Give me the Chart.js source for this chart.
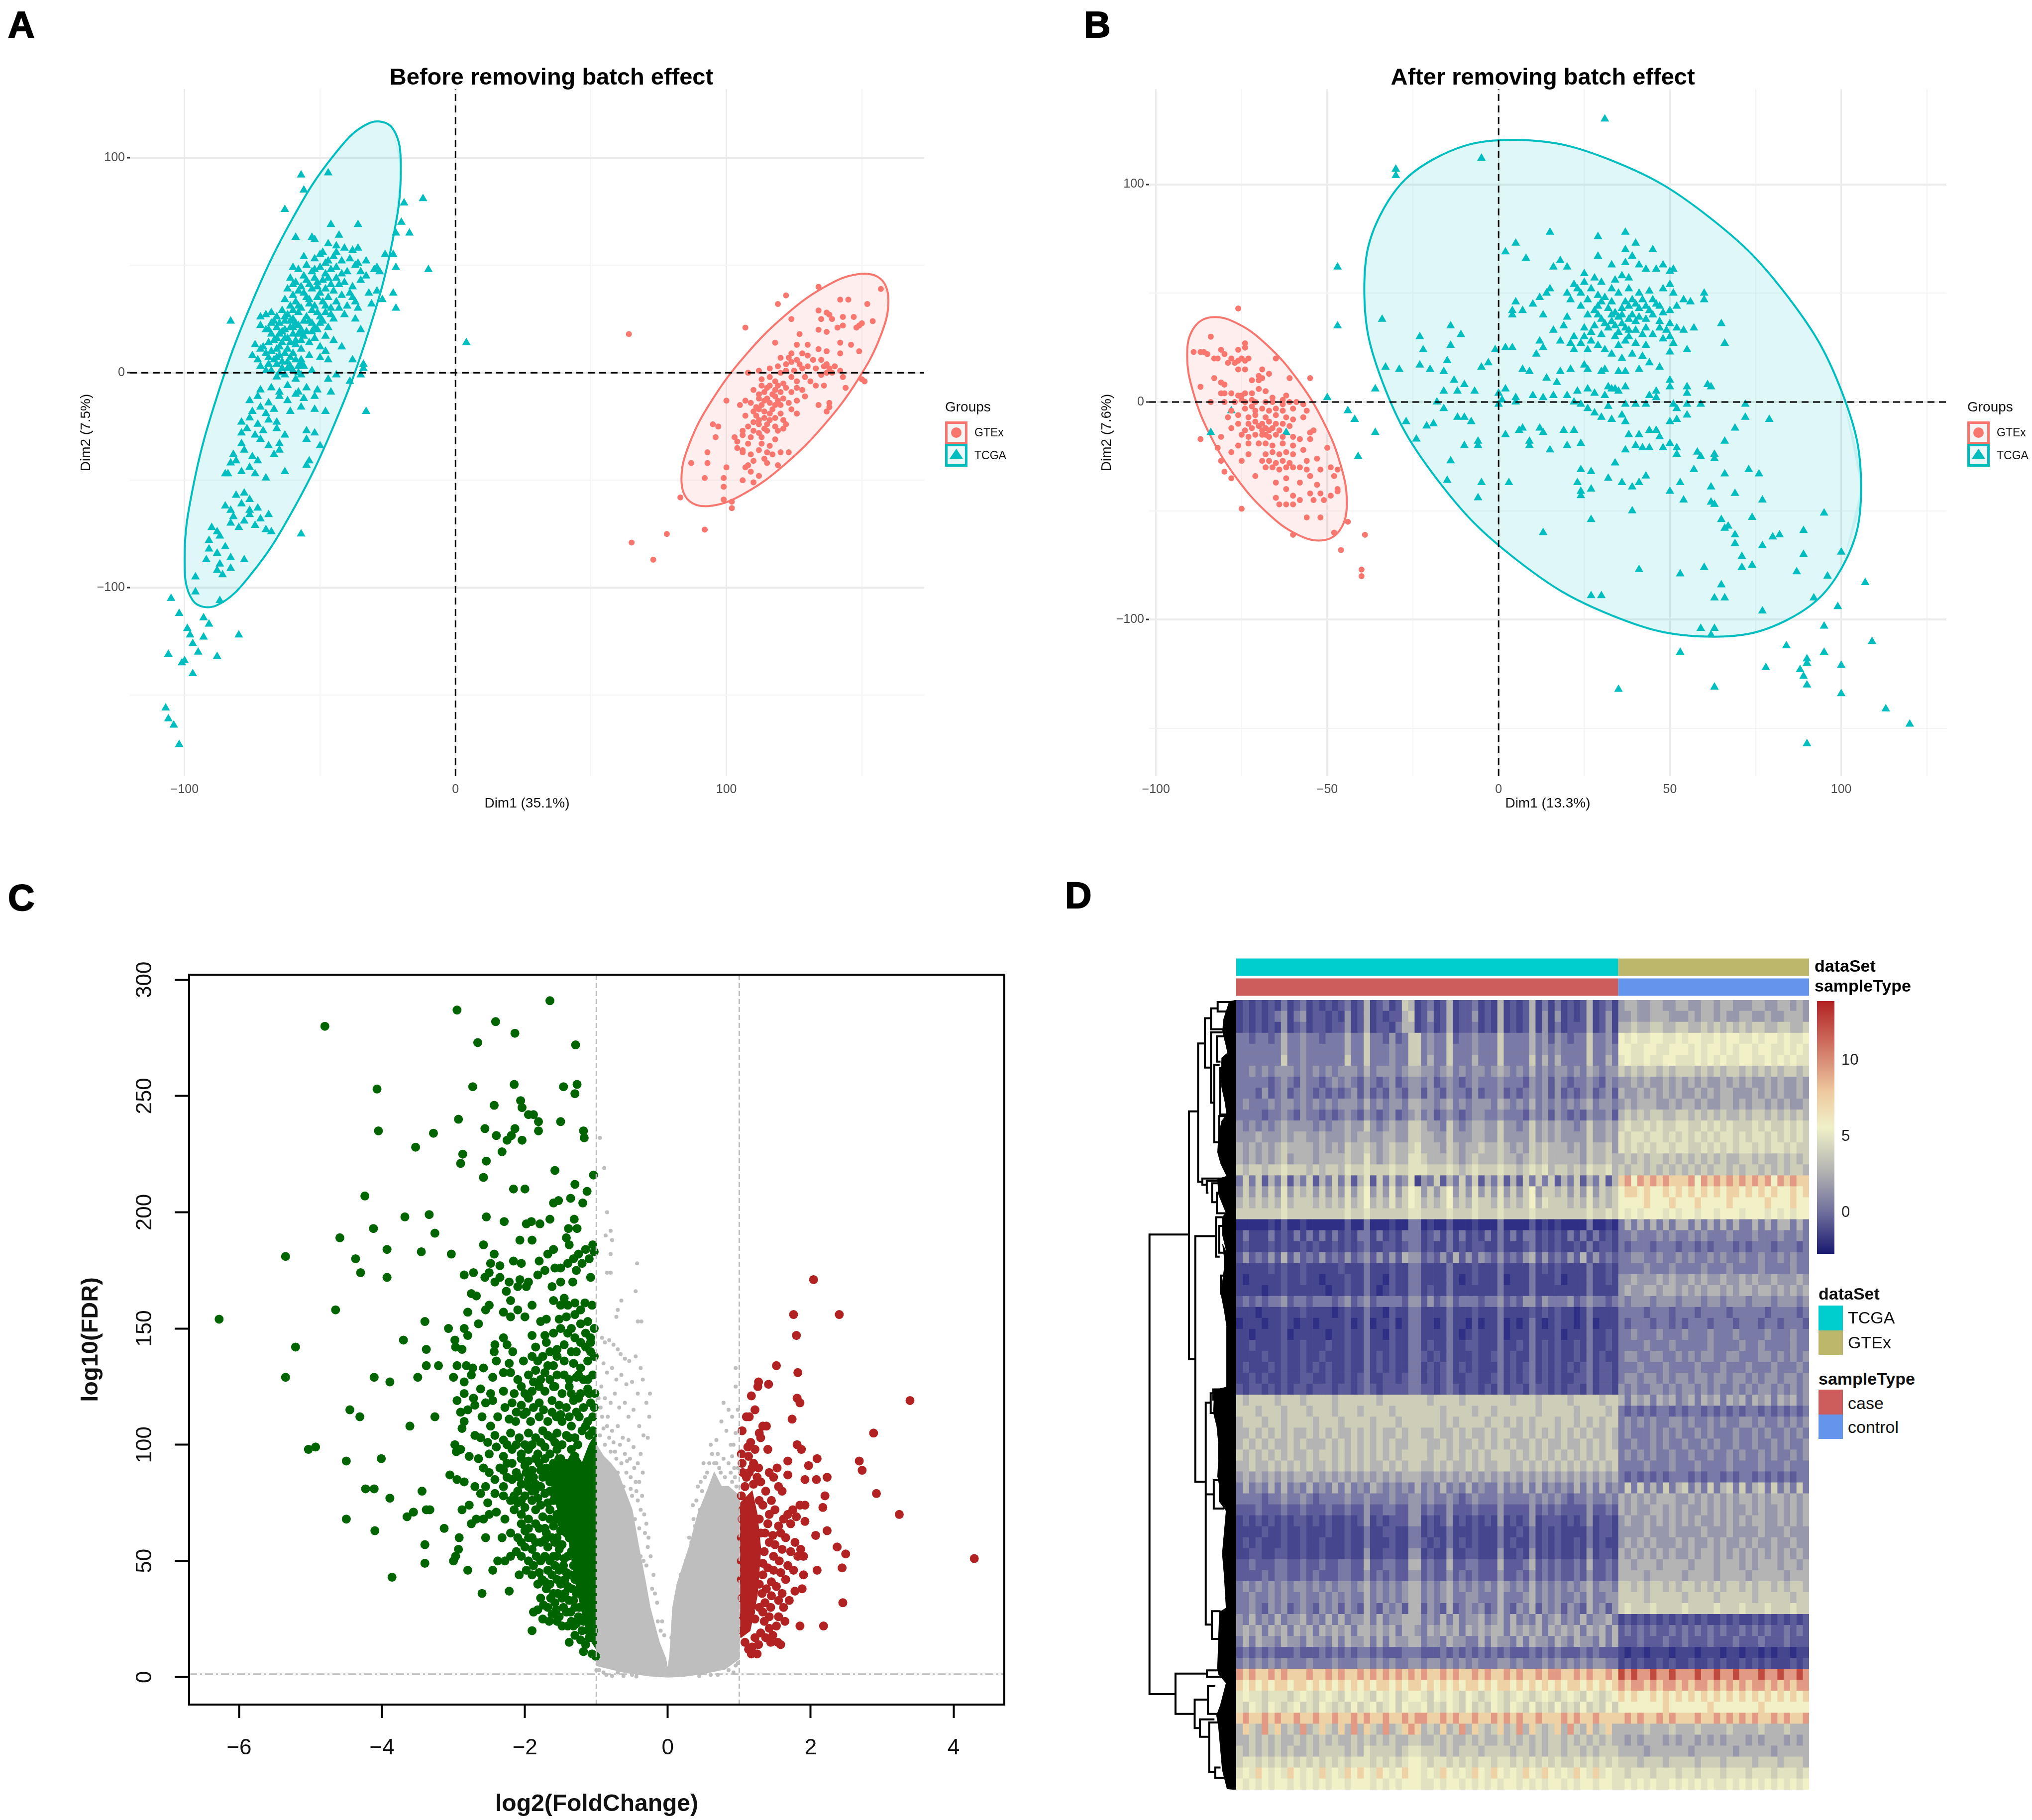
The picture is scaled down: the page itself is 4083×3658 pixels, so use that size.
<!DOCTYPE html>
<html>
<head>
<meta charset="utf-8">
<title>Batch effect, volcano and heatmap panels</title>
<script src="https://cdn.jsdelivr.net/npm/chart.js@4/dist/chart.umd.min.js"></script>
<style>
html, body { margin: 0; background: #fff; }
#page { position: relative; width: 4083px; height: 3658px; overflow: hidden; font-family: "Liberation Sans", Arial, sans-serif; color: #111; }
#page canvas { position: absolute; }
.txt { position: absolute; white-space: nowrap; line-height: 1; transform: translateY(-50%); }
.tag { font-weight: bold; font-size: 74px; color: #000; -webkit-text-stroke: 2px #000; }
.box { position: absolute; box-sizing: border-box; }
</style>
</head>
<body>
<div id="page"></div>
<script>
// panel A
const aXTicks = [-100, 0, 100];
const aYTicks = [100, 0, -100];
const aGtexEllipse = [[159.8,33.6],[156.9,43.7],[148.6,45.9],[136.2,39.9],[121.6,26.6],[107,8.1],[94.6,-12.9],[86.3,-33.1],[83.4,-49.6],[86.3,-59.7],[94.6,-61.9],[107,-55.9],[121.6,-42.6],[136.2,-24.1],[148.6,-3.1],[156.9,17.1],[159.8,33.6]];
const aTcgaEllipse = [[-20.2,94.6],[-23.2,113.7],[-31.9,116.1],[-44.8,101.4],[-60.1,71.9],[-75.4,32],[-88.3,-12.1],[-97,-53.9],[-100,-86.8],[-97,-105.9],[-88.3,-108.3],[-75.4,-93.6],[-60.1,-64.1],[-44.8,-24.2],[-31.9,19.9],[-23.2,61.7],[-20.2,94.6]];
const aTcga = [[-57,92],[-47,93],[-56,85],[-63,76],[-46,69],[-36,69],[-59,63],[-53,63],[-52,62],[-43,64],[-12,81],[-19,79],[-20,70],[-17,65],[-22,65],[-26,55],[-23,55],[-22,49],[-10,48],[-23,37],[-22,30],[-83,24],[4,14],[-34,4],[-35,-1],[-33,-18],[-57,-75],[-96,-95],[-96,-102],[-87,-106],[-105,-105],[-102,-112],[-93,-114],[-91,-117],[-99,-119],[-98,-122],[-93,-123],[-80,-122],[-97,-126],[-95,-130],[-88,-132],[-106,-131],[-100,-134],[-101,-135],[-97,-140],[-107,-156],[-106,-161],[-104,-164],[-102,-173],
[-47,60],[-44,59],[-41,58],[-38,57],[-36,58],[-49,56],[-56,54],[-52,53],[-50,55],[-47,52],[-45,54],[-42,52],[-39,53],[-33,52],[-30,48],[-28,47],[-36,51],[-60,49],[-58,48],[-55,50],[-53,47],[-50,49],[-48,46],[-46,48],[-44,49],[-42,46],[-37,50],[-35,47],[-33,45],[-29,49],[-61,44],[-59,42],[-56,45],[-54,41],[-52,44],[-49,43],[-46,41],[-44,44],[-41,42],[-38,40],[-35,43],[-62,39],[-60,36],[-58,38],[-55,35],[-53,39],[-50,37],[-47,35],[-45,38],[-42,36],[-38,35],[-32,37],[-29,38],[-27,34],[-63,34],[-61,31],[-59,33],[-57,30],[-54,34],[-52,31],[-49,33],[-46,30],[-44,33],[-40,31],[-37,33],[-31,32],[-70,27],[-72,26],[-68,28],[-66,26],[-64,29],[-62,27],[-60,25],[-58,28],[-55,26],[-53,29],[-50,26],[-48,28],[-45,25],[-41,27],[-37,25],[-72,22],[-70,20],[-68,23],[-66,21],[-63,24],[-61,21],[-59,23],[-57,20],[-54,24],[-52,21],[-50,23],[-47,21],[-35,20],[-68,18],[-66,16],[-64,19],[-62,16],[-60,18],[-57,15],[-55,19],[-52,16],[-48,17],[-45,15],[-74,13],[-72,11],[-69,14],[-66,11],[-64,14],[-62,11],[-59,13],[-57,11],[-54,14],[-50,12],[-48,10],[-42,12],[-75,8],[-73,6],[-70,9],[-67,6],[-65,8],[-62,5],[-60,9],[-57,6],[-54,8],[-50,7],[-47,6],[-38,6],[-72,3],[-70,1],[-66,4],[-64,2],[-61,3],[-58,0],[-56,3],[-53,1],[-34,2],[-66,-2],[-63,-1],[-59,-3],[-57,-1],[-47,-3],[-44,-1],[-39,-4],[-72,-8],[-68,-7],[-65,-9],[-62,-6],[-58,-9],[-55,-7],[-51,-8],[-46,-9],[-76,-13],[-73,-11],[-69,-14],[-65,-11],[-62,-13],[-59,-10],[-56,-12],[-52,-11],[-75,-18],[-72,-16],[-70,-19],[-67,-17],[-61,-18],[-57,-16],[-52,-17],[-48,-18],[-79,-23],[-76,-21],[-73,-24],[-69,-22],[-66,-23],[-79,-28],[-77,-26],[-74,-29],[-71,-27],[-66,-26],[-63,-29],[-55,-27],[-52,-28],[-79,-33],[-72,-31],[-69,-34],[-65,-33],[-55,-31],[-50,-34],[-82,-38],[-78,-36],[-75,-39],[-67,-38],[-65,-36],[-83,-42],[-81,-41],[-76,-44],[-73,-41],[-55,-43],[-54,-41],[-85,-47],[-84,-47],[-79,-46],[-74,-47],[-70,-49],[-63,-46],[-81,-57],[-78,-56],[-76,-59],[-85,-62],[-83,-64],[-79,-61],[-76,-64],[-73,-63],[-82,-67],[-78,-69],[-76,-66],[-72,-68],[-69,-66],[-90,-72],[-88,-74],[-83,-70],[-80,-72],[-74,-71],[-70,-73],[-68,-74],[-91,-78],[-87,-76],[-91,-82],[-88,-84],[-85,-81],[-92,-87],[-87,-89],[-83,-86],[-78,-87],[-88,-92],[-86,-94],[-83,-91],
[-60,41],[-57,40],[-55,43],[-51,40],[-48,39],[-56,37],[-54,32],[-51,35],[-48,31],[-58,31],[-60,29],[-63,26],[-65,23],[-61,24],[-58,22],[-56,24],[-53,23],[-51,28],[-49,24],[-46,27],[-67,24],[-69,20],[-65,18],[-63,20],[-60,21],[-58,18],[-56,17],[-53,19],[-51,20],[-63,16],[-61,14],[-59,15],[-57,18],[-67,15],[-65,12],[-63,9],[-61,7],[-68,10],[-59,6],[-66,7],[-69,7],[-64,5],[-62,2],[-60,1],[-71,12],[-69,4],[-58,3],[-68,1],[-65,0],[-57,4],[-52,48],[-47,44],[-43,41],[-40,47],[-48,51],[-44,56],[-51,42],[-43,30],[-39,37],[-36,30]];
const aGtex = [[64,18],[65,-79],[73,-87],[78,-75],[92,-73],[102,-63],[102,-60],[99,-59],[83,-58],[157,39],[134,40],[122,36],[119,32],[142,34],[145,34],[152,32],[134,29],[137,28],[138,27],[143,26],[139,25],[147,26],[135,25],[124,25],[107,21],[150,23],[143,22],[149,22],[148,21],[141,21],[154,24],[134,20],[137,19],[127,18],[118,14],[142,14],[146,13],[130,13],[126,13],[134,11],[137,10],[124,9],[128,9],[130,8],[120,7],[123,7],[126,6],[132,6],[135,6],[142,9],[149,10],[137,4],[136,3],[138,2],[140,3],[127,4],[124,5],[122,4],[119,3],[130,3],[133,2],[116,2],[122,1],[125,1],[128,2],[112,1],[108,0],[120,0],[137,0],[139,0],[142,1],[143,-2],[135,-1],[129,-2],[124,-2],[116,-2],[113,-3],[118,-4],[121,-5],[126,-4],[131,-4],[150,-3],[151,-4],[126,-7],[122,-7],[118,-8],[115,-7],[110,-8],[112,-10],[114,-9],[117,-10],[120,-9],[124,-9],[128,-8],[133,-6],[136,-6],[144,-7],[100,-13],[107,-13],[109,-14],[112,-12],[115,-12],[118,-11],[121,-12],[126,-13],[129,-11],[138,-14],[134,-15],[105,-15],[111,-16],[113,-15],[116,-14],[118,-15],[120,-15],[123,-14],[110,-18],[114,-18],[117,-17],[120,-19],[124,-17],[137,-18],[138,-16],[107,-20],[111,-20],[114,-21],[118,-21],[121,-22],[126,-19],[112,-24],[115,-24],[108,-25],[110,-23],[118,-25],[122,-24],[95,-24],[97,-25],[106,-27],[112,-28],[115,-27],[119,-27],[121,-26],[106,-29],[109,-30],[113,-30],[118,-31],[103,-30],[96,-30],[104,-32],[108,-33],[113,-33],[116,-34],[104,-35],[106,-36],[112,-36],[120,-37],[115,-37],[93,-37],[106,-37],[109,-38],[117,-38],[123,-37],[110,-41],[114,-40],[100,-44],[107,-44],[115,-42],[109,-46],[112,-48],[87,-42],[93,-42],[108,-43],[119,-43],[99,-49],[92,-49],[106,-50],[110,-51],[99,-53],[113,-6],[116,-6],[119,-6],[114,-13],[119,-13],[112,-17],[116,-19],[112,-22],[114,-26],[110,-27],[116,-22]];
// panel B
const bXTicks = [-100, -50, 0, 50, 100];
const bYTicks = [100, 0, -100];
const bGtexEllipse = [[-44.3,-46.2],[-46.1,-28.9],[-51.1,-9.1],[-58.7,10.3],[-67.6,26.2],[-76.5,36.3],[-84.1,38.9],[-89.1,33.7],[-90.9,21.6],[-89.1,4.3],[-84.1,-15.5],[-76.5,-34.9],[-67.6,-50.8],[-58.7,-60.9],[-51.1,-63.5],[-46.1,-58.3],[-44.3,-46.2]];
const bTcgaEllipse = [[105.8,-39.3],[100.3,4.2],[84.6,48],[61.1,85.4],[33.3,110.8],[5.5,120.4],[-18,112.4],[-33.7,88.4],[-39.2,51.9],[-33.7,8.4],[-18,-35.4],[5.5,-72.8],[33.3,-98.2],[61.1,-107.8],[84.6,-99.8],[100.3,-75.8],[105.8,-39.3]];
const bTcga = [[31,130],[-5,112],[-30,107],[-30,104],[-47,62],[-47,35],[-34,38],[15,78],[29,76],[37,78],[40,73],[37,70],[45,70],[5,73],[2,69],[8,66],[29,67],[39,67],[18,65],[16,62],[20,62],[25,59],[33,63],[37,64],[41,63],[43,61],[46,61],[48,63],[50,60],[51,61],[36,58],[38,57],[34,56],[28,57],[30,55],[25,55],[22,54],[23,52],[20,50],[21,47],[24,50],[27,52],[29,49],[26,47],[33,52],[31,48],[35,50],[38,52],[41,50],[44,51],[48,52],[50,54],[51,50],[54,47],[56,46],[60,50],[60,47],[45,47],[47,44],[50,42],[52,44],[42,47],[39,47],[37,46],[36,43],[38,44],[34,41],[32,43],[35,39],[39,40],[41,43],[44,42],[48,41],[29,44],[15,52],[14,50],[12,48],[10,45],[5,46],[4,42],[7,42],[4,40],[13,40],[20,39],[29,40],[33,37],[36,36],[40,37],[43,38],[47,37],[50,36],[52,34],[54,33],[57,34],[65,36],[66,27],[47,34],[49,33],[43,34],[38,33],[32,34],[25,34],[19,35],[16,33],[12,28],[25,30],[22,30],[21,27],[24,27],[27,28],[30,31],[34,30],[29,26],[31,24],[38,30],[40,27],[43,26],[50,30],[51,27],[55,24],[50,23],[22,24],[18,28],[13,25],[11,22],[4,25],[2,25],[-1,24],[-23,30],[-22,24],[-14,35],[-14,26],[-11,31],[-23,17],[-20,15],[-15,19],[-16,14],[-13,10],[-10,8],[-5,16],[-3,18],[-33,16],[-29,15],[-36,6],[-16,5],[-12,5],[-7,5],[0,4],[2,6],[7,15],[9,14],[14,11],[17,9],[18,14],[21,15],[26,15],[25,17],[30,14],[31,15],[35,14],[37,14],[41,15],[44,18],[47,16],[50,10],[32,7],[33,6],[34,6],[35,5],[26,6],[28,4],[31,3],[37,7],[46,5],[50,7],[55,7],[61,8],[62,7],[5,2],[10,3],[13,2],[16,3],[20,3],[23,5],[44,3],[46,2],[55,4],[-50,2],[-18,0],[-16,-3],[-10,-7],[-8,-9],[-12,-7],[0,-1],[1,1],[5,0],[22,0],[24,-1],[26,-3],[28,-5],[32,-2],[37,-1],[40,-1],[43,-1],[51,-1],[52,-3],[55,-1],[59,-1],[50,-9],[52,-8],[55,-6],[72,-1],[72,-7],[79,-8],[36,-6],[33,-8],[30,-7],[37,-9],[-27,-9],[-21,-11],[-19,-10],[-44,-4],[-42,-8],[-36,-14],[-84,-14],[-62,-14],[-78,-4],[-24,-17],[-10,-20],[-6,-18],[-6,-20],[2,-15],[6,-13],[7,-12],[12,-12],[13,-14],[9,-18],[9,-20],[15,-22],[19,-13],[22,-13],[24,-19],[20,-20],[38,-15],[37,-22],[41,-15],[44,-13],[46,-13],[47,-16],[40,-20],[42,-21],[44,-21],[48,-21],[50,-19],[52,-21],[52,-24],[58,-23],[59,-25],[63,-24],[63,-26],[66,-18],[69,-12],[-41,-25],[-14,-27],[-5,-37],[3,-37],[-15,-36],[24,-31],[27,-32],[34,-28],[32,-35],[27,-40],[23,-37],[24,-41],[24,-43],[36,-37],[39,-39],[41,-37],[43,-34],[50,-41],[53,-37],[57,-31],[62,-39],[66,-33],[54,-45],[62,-46],[63,-47],[69,-42],[73,-31],[76,-33],[77,-45],[-6,-44],[27,-54],[39,-50],[13,-60],[65,-54],[67,-57],[66,-58],[69,-61],[74,-53],[89,-59],[95,-51],[77,-66],[69,-65],[80,-62],[82,-61],[71,-71],[74,-75],[71,-76],[87,-78],[89,-70],[100,-69],[96,-80],[41,-77],[53,-79],[60,-76],[65,-84],[63,-90],[66,-90],[27,-89],[30,-89],[77,-96],[92,-90],[99,-94],[107,-83],[95,-103],[59,-104],[63,-104],[62,-107],[53,-115],[84,-112],[90,-118],[95,-115],[109,-110],[78,-122],[88,-123],[90,-120],[100,-121],[89,-126],[90,-130],[63,-131],[35,-132],[100,-134],[113,-141],[120,-148],[90,-157],
[30,38],[33,40],[36,40],[38,38],[41,39],[34,35],[31,36],[37,34],[40,33],[35,32],[28,35],[27,32],[42,31],[45,31],[48,29],[45,40],[43,44],[40,45],[33,46],[30,46],[28,42],[26,40],[24,44],[46,45],[37,28],[35,26],[26,24],[33,22],[36,20],[39,22],[42,21]];
const bGtex = [[-76,43],[-84,30],[-89,23],[-87,23],[-86,23],[-85,22],[-81,24],[-76,24],[-74,27],[-74,25],[-80,22],[-83,20],[-82,20],[-78,20],[-76,19],[-75,20],[-74,19],[-73,20],[-65,20],[-79,18],[-77,18],[-76,15],[-74,15],[-69,15],[-70,12],[-67,13],[-83,11],[-87,7],[-81,9],[-80,8],[-72,10],[-70,10],[-69,11],[-61,11],[-55,11],[-81,4],[-80,4],[-78,4],[-76,3],[-75,3],[-74,4],[-72,4],[-70,6],[-68,5],[-66,2],[-63,1],[-62,3],[-84,0],[-80,0],[-77,0],[-75,1],[-74,0],[-72,1],[-71,0],[-68,0],[-66,0],[-63,-1],[-61,0],[-59,0],[-57,-1],[-78,-4],[-74,-3],[-72,-2],[-71,-4],[-69,-3],[-67,-4],[-65,-3],[-63,-4],[-60,-3],[-56,-4],[-79,-7],[-76,-6],[-73,-7],[-71,-6],[-68,-7],[-65,-6],[-62,-7],[-60,-8],[-57,-7],[-76,-10],[-73,-10],[-71,-9],[-69,-10],[-67,-9],[-65,-10],[-63,-10],[-61,-11],[-78,-12],[-74,-13],[-72,-12],[-70,-11],[-69,-13],[-68,-12],[-67,-13],[-66,-12],[-64,-13],[-55,-14],[-54,-13],[-87,-17],[-81,-16],[-75,-15],[-73,-16],[-71,-15],[-69,-15],[-68,-15],[-67,-16],[-65,-15],[-63,-16],[-60,-16],[-58,-17],[-55,-17],[-76,-20],[-73,-19],[-70,-19],[-68,-19],[-66,-20],[-63,-19],[-60,-20],[-50,-21],[-82,-21],[-78,-23],[-73,-24],[-68,-24],[-66,-23],[-64,-24],[-62,-23],[-60,-24],[-57,-22],[-53,-26],[-69,-27],[-67,-27],[-65,-28],[-63,-27],[-61,-28],[-56,-27],[-81,-27],[-75,-27],[-68,-30],[-66,-30],[-64,-31],[-62,-30],[-60,-30],[-58,-30],[-56,-31],[-52,-31],[-49,-30],[-47,-31],[-80,-32],[-78,-35],[-71,-34],[-62,-35],[-55,-34],[-48,-34],[-65,-37],[-58,-37],[-53,-38],[-47,-40],[-62,-40],[-60,-43],[-55,-42],[-52,-42],[-49,-43],[-47,-41],[-65,-44],[-58,-45],[-54,-45],[-51,-45],[-64,-47],[-62,-47],[-60,-47],[-75,-49],[-56,-53],[-52,-53],[-60,-61],[-48,-60],[-44,-55],[-39,-61],[-46,-68],[-40,-77],[-40,-80]];
// panel C
const cXTicks = [-6, -4, -2, 0, 2, 4];
const cYTicks = [0, 50, 100, 150, 200, 250, 300];
const fcCuts = [-1, 1];
const fdrCut = 1.3;
const cNsCore = [[-1,5],[-1,100],[-0.9,95],[-0.8,92],[-0.7,88],[-0.6,80],[-0.5,72],[-0.42,58],[-0.32,42],[-0.25,30],[-0.12,15],[-0.03,8],[0,3],[0.03,10],[0.07,30],[0.13,40],[0.3,56],[0.42,70],[0.55,80],[0.65,88],[0.75,82],[0.85,82],[1,78],[1,8],[0.8,3.5],[0.5,1.5],[0.2,0.3],[0,0],[-0.25,0.5],[-0.6,2],[-0.8,3.5],[-1,5]];
const cDownCore = [[-1,12],[-1.12,18],[-1.2,28],[-1.3,42],[-1.38,58],[-1.5,68],[-1.62,80],[-1.65,90],[-1.55,96],[-1.42,92],[-1.32,98],[-1.2,92],[-1.1,100],[-1,105],[-1,12]];
const cUpCore = [[1.02,17],[1.15,20],[1.25,35],[1.3,55],[1.25,70],[1.18,80],[1.02,75],[1.02,17]];
const cNs = [[-0.95,232],[-0.89,219],[-0.85,200],[-0.87,190],[-0.8,192],[-0.78,188],[-0.8,182],[-0.43,178],[-0.85,174],[-0.8,174],[-0.45,166],[-0.65,162],[-0.7,158],[-0.72,155],[-0.42,153],[-0.37,153],[-0.92,146],[-0.88,144],[-0.82,145],[-0.76,143],[-0.7,141],[-0.66,139],[-0.6,137],[-0.54,136],[-0.45,138],[-0.38,133],[-0.35,128],[-0.9,135],[-0.85,131],[-0.78,133],[-0.72,128],[-0.65,130],[-0.58,126],[-0.5,127],[-0.42,122],[-0.3,118],[-0.25,122],[-0.26,112],[-0.93,125],[-0.88,120],[-0.8,118],[-0.74,122],[-0.68,116],[-0.6,118],[-0.55,112],[-0.48,115],[-0.4,108],[-0.34,104],[-0.38,96],[-0.28,103],[-0.92,112],[-0.85,108],[-0.78,106],[-0.7,108],[-0.63,103],[-0.55,102],[-0.48,99],[-0.42,92],[-0.35,88],[-0.45,84],[-0.95,104],[-0.88,100],[-0.8,97],[-0.72,94],[-0.65,92],[-0.58,88],[-0.52,86],[-0.5,78],[-0.42,76],[-0.38,72],[-0.32,62],[-0.28,56],[-0.2,44],[-0.15,32],[-0.34,50],[-0.4,64],[-0.62,82],[-0.7,88],[-0.8,90],[-0.9,94],[0.95,133],[0.95,125],[0.78,118],[0.85,115],[0.9,112],[0.75,110],[0.82,106],[0.6,100],[0.95,105],[0.88,100],[0.9,95],[0.7,96],[0.78,94],[0.65,92],[0.85,92],[0.55,88],[0.93,90],[0.48,80],[0.38,65],[0.45,72],[0.33,58],[0.28,52],[0.22,46],[0.16,38],[0.72,90],[0.96,82],[0.9,84],[0.11,28],[0.05,17],[-0.05,18],[-0.08,24],[-1,3],[-0.9,2],[-0.7,2],[-0.5,1],[0.6,1],[0.85,3],[0.95,5],
[-0.97,120],[-0.94,116],[-0.9,107],[-0.84,112],[-0.82,103],[-0.76,101],[-0.74,97],[-0.67,100],[-0.6,96],[-0.57,93],[-0.53,94],[-0.47,90],[-0.44,80],[-0.4,84],[-0.36,78],[-0.33,70],[-0.3,66],[-0.27,60],[-0.24,52],[-0.22,38],[-0.18,36],[-0.14,24],[-0.1,20],[-0.98,97],[-0.52,81],[-0.46,68],[-0.38,52],[-0.3,48],[-0.96,3],[-0.86,1],[-0.78,0.5],[-0.62,0.5],[-0.44,0.3],[-0.9,6],[0.12,34],[0.18,44],[0.25,50],[0.3,60],[0.36,68],[0.4,76],[0.46,84],[0.52,86],[0.58,92],[0.62,96],[0.68,92],[0.74,88],[0.8,86],[0.88,88],[0.94,86],[0.98,90],[0.35,74],[0.42,82],[0.5,92],[0.68,102],[0.92,100],[0.98,115],[0.44,0.5],[0.7,1],[0.92,2],[0.98,6]];
const cUp = [[2.04,171],[1.76,156],[2.4,156],[1.8,147],[1.52,134],[1.82,131],[3.39,119],[1.27,127],[1.26,125],[1.41,126],[1.17,121],[1.81,120],[1.85,118],[1.22,115],[1.1,112],[1.14,112],[1.74,111],[2.88,105],[1.04,106],[1.33,108],[1.38,108],[1.28,105],[1.3,103],[1.81,100],[1.87,98],[2.68,93],[2.72,89],[2.09,94],[1.97,91],[1.68,93],[2.23,86],[2.08,85],[1.92,85],[1.68,87],[1.53,90],[2.92,79],[2.2,78],[2.17,73],[1.92,74],[3.24,70],[4.29,51],[2.23,63],[2.37,56],[2.49,53],[2.44,47],[2.09,46],[2.07,61],[2.45,32],[2.18,22],[1.85,22],[1.92,67],[1.16,101],[1.12,99],[1.22,98],[1.4,98],[1.03,96],[1.04,92],[1.2,92],[1.27,90],[1.14,88],[1.05,88],[1.1,86],[1.42,88],[1.48,86],[1.3,84],[1.55,82],[1.2,83],[1.37,80],[1.45,76],[1.6,80],[1.33,74],[1.5,72],[1.68,70],[1.75,72],[1.85,74],[1.8,69],[1.72,66],[1.62,68],[1.55,65],[1.42,70],[1.4,66],[1.36,62],[1.47,61],[1.58,62],[1.65,60],[1.78,58],[1.86,55],[1.9,52],[1.82,52],[1.72,54],[1.6,55],[1.5,57],[1.42,58],[1.35,54],[1.48,52],[1.56,50],[1.68,48],[1.76,46],[1.9,44],[1.88,38],[1.78,37],[1.65,42],[1.58,45],[1.48,46],[1.4,47],[1.33,49],[1.33,44],[1.45,41],[1.52,39],[1.6,36],[1.7,33],[1.62,30],[1.55,33],[1.45,35],[1.38,38],[1.32,36],[1.28,40],[1.36,32],[1.44,30],[1.55,26],[1.64,24],[1.52,22],[1.42,26],[1.33,28],[1.28,30],[1.35,24],[1.42,21],[1.47,18],[1.54,15],[1.58,14],[1.44,15],[1.37,17],[1.3,19],[1.27,14],[1.22,17],[1.18,13],[1.13,12],[1.25,10],[1.17,10],[1.08,15],[1.05,20],[1.06,26],[1.1,30],[1.16,28],[1.22,25],[1.04,34],[1.08,38],[1.03,42],[1.07,46],[1.03,50],[1.06,55],[1.03,60],[1.07,64],[1.04,68],[1.05,72],[1.03,78],[1.08,82],[1.28,68],[1.3,62],[1.28,76],[1.25,86],[1.18,90],[1.13,95]];
const cDown = [[-6.28,154],[-5.35,181],[-5.21,142],[-5.35,129],[-4.8,280],[-4.59,189],[-4.65,158],[-4.37,180],[-4.3,174],[-4.24,207],[-4.12,193],[-4.07,253],[-4.05,235],[-3.93,184],[-3.93,172],[-4.11,129],[-3.89,127],[-4.45,115],[-4.31,112],[-5.03,98],[-4.93,99],[-4.5,93],[-4.01,94],[-4.23,81],[-4.11,81],[-3.89,77],[-4.5,68],[-4.1,63],[-3.86,43],[-3.68,198],[-3.45,183],[-3.34,199],[-3.26,191],[-3.53,228],[-3.28,234],[-3.4,153],[-3.7,145],[-3.38,141],[-3.5,129],[-3.38,134],[-3.21,134],[-3.61,108],[-3.26,112],[-3.44,80],[-3.65,69],[-3.56,71],[-3.38,72],[-3.33,72],[-3.13,64],[-3.4,57],[-3.4,49],[-2.95,287],[-2.66,273],[-2.41,282],[-2.14,277],[-1.65,291],[-1.29,272],[-2.73,254],[-2.15,255],[-1.46,254],[-1.27,255],[-1.3,251],[-2.43,246],[-2.06,248],[-2.04,245],[-1.95,242],[-1.88,242],[-1.81,239],[-1.5,239],[-2.93,240],[-2.56,236],[-2.4,233],[-2.14,236],[-1.81,235],[-1.18,235],[-1.17,232],[-2.25,231],[-2.19,233],[-2.04,231],[-2.87,225],[-2.54,222],[-2.9,221],[-2.32,226],[-2.58,215],[-1.58,218],[-1.3,212],[-1.04,216],[-1.13,209],[-2.16,210],[-2,210],[-1.36,206],[-1.53,205],[-1.6,204],[-1.19,204],[-2.54,198],[-2.29,196],[-1.65,197],[-1.31,197],[-1.98,195],[-1.91,196],[-1.79,195],[-1.39,193],[-1.27,193],[-2.07,188],[-1.9,188],[-2.58,186],[-3.03,182],
[-1.05,186],[-1.15,184],[-1.25,182],[-1.38,186],[-1.42,189],[-1.6,184],[-1.68,182],[-1.8,179],[-2.05,178],[-2.16,179],[-2.35,177],[-2.48,178],[-2.43,182],[-1.03,183],[-1.1,180],[-1.2,178],[-1.32,180],[-1.4,178],[-1.5,176],[-1.58,176],[-1.72,175],[-1.82,173],[-1.95,170],[-2.07,171],[-2.22,170],[-2.35,172],[-2.5,174],[-2.56,172],[-2.72,174],[-2.85,173],[-1.08,172],[-1.28,175],[-1.33,170],[-1.5,170],[-1.62,168],[-1.98,168],[-2.1,168],[-2.26,166],[-2.42,170],[-2.75,165],[-2.68,164],[-1.45,163],[-1.4,160],[-1.3,161],[-1.16,161],[-1.06,160],[-1.5,160],[-1.6,162],[-1.9,160],[-2.2,162],[-2.5,160],[-2.55,158],[-2.8,157],[-2.1,158],[-2.3,157],[-2.2,155],[-1.42,155],[-1.52,154],[-1.7,154],[-1.78,153],[-2.0,155],[-2.65,152],[-2.85,150],[-3.07,150],[-1.22,152],[-1.5,150],[-1.6,148],[-1.72,147],[-1.9,147],[-2.3,146],[-2.42,143],[-2.8,147],[-2.98,145],[-2.97,142],[-2.88,141],[-1.08,144],[-1.15,142],[-1.22,144],[-1.28,140],[-1.45,143],[-1.55,141],[-1.7,144],[-2.25,143],[-2.43,140],[-2.17,140],[-1.08,140],[-1.12,136],[-1.22,133],[-1.32,135],[-1.45,136],[-1.55,138],[-1.6,134],[-1.75,138],[-1.82,136],[-1.9,138],[-2.02,136],[-2.22,135],[-2.4,136],[-2.2,131],[-2.58,133],[-2.73,133],[-2.95,134],[-2.82,134],[-1.05,130],[-1.18,128],[-1.28,129],[-1.38,128],[-1.55,130],[-1.65,128],[-1.72,131],[-1.85,132],[-1.95,130],[-2.1,128],[-2.3,131],[-2.45,129],[-2.75,130],[-3,129],[-2.85,127],[-1.02,122],[-1.12,124],[-1.22,122],[-1.38,125],[-1.48,122],[-1.6,125],[-1.72,123],[-1.8,125],[-1.9,123],[-2.05,125],[-2.15,122],[-2.3,123],[-2.48,122],[-2.62,124],[-2.72,120],[-2.85,122],[-2.95,119],[-1.08,118],[-1.18,116],[-1.32,119],[-1.42,116],[-1.52,117],[-1.62,119],[-1.8,118],[-1.95,120],[-2.05,117],[-2.18,118],[-2.28,116],[-2.45,119],[-2.55,118],[-2.7,117],[-2.8,115],[-2.9,114],[-1.05,112],[-1.12,110],[-1.24,112],[-1.35,108],[-1.48,110],[-1.56,112],[-1.68,110],[-1.8,112],[-1.92,110],[-2.02,113],[-2.13,110],[-2.22,111],[-2.38,112],[-2.48,108],[-2.6,112],[-2.85,110],[-2.88,107],[-1.1,104],[-1.2,106],[-1.3,103],[-1.42,104],[-1.55,105],[-1.62,103],[-1.75,106],[-1.85,103],[-1.95,105],[-2.08,103],[-2.2,105],[-2.3,102],[-2.42,104],[-2.52,101],[-2.62,103],[-2.7,104],[-2.98,100],[-2.96,97],[-1.05,98],[-1.35,98],[-1.55,98],[-1.65,96],[-1.72,99],[-1.82,96],[-1.95,98],[-2.05,96],[-2.18,98],[-2.3,95],[-2.4,99],[-2.5,96],[-2.65,94],[-2.78,95],[-2.9,98],[-1.6,92],[-1.7,90],[-1.8,92],[-1.9,89],[-2,91],[-2.12,88],[-2.25,92],[-2.35,90],[-2.5,88],[-2.58,90],[-2.95,85],[-3.05,87],[-1.55,86],[-1.65,84],[-1.75,86],[-1.85,83],[-1.95,85],[-2.05,83],[-2.18,85],[-2.3,82],[-2.42,85],[-2.55,82],[-2.7,82],[-2.85,84],[-1.55,80],[-1.6,76],[-1.72,79],[-1.82,77],[-1.9,80],[-2,78],[-2.1,80],[-2.2,76],[-2.3,78],[-2.42,79],[-2.52,75],[-2.62,79],[-2.78,74],[-2.88,72],[-1.45,72],[-1.55,70],[-1.65,72],[-1.75,69],[-1.85,72],[-1.95,68],[-2.05,70],[-2.15,72],[-2.28,68],[-2.4,71],[-2.5,70],[-2.58,68],[-2.68,68],[-2.75,66],[-1.4,66],[-1.5,63],[-1.6,65],[-1.7,62],[-1.8,64],[-1.9,60],[-2,63],[-2.1,60],[-2.2,62],[-2.32,60],[-2.55,60],[-2.92,60],[-2.93,55],[-1.38,60],[-1.48,57],[-1.58,58],[-1.68,56],[-1.78,58],[-1.9,55],[-2,56],[-2.12,54],[-2.2,52],[-2.28,50],[-2.38,50],[-2.97,52],[-3,50],[-1.35,54],[-1.45,51],[-1.55,52],[-1.65,50],[-1.78,50],[-1.88,48],[-1.98,46],[-2.08,44],[-2.45,46],[-2.8,46],[-1.32,48],[-1.42,45],[-1.52,46],[-1.62,44],[-1.72,41],[-1.82,40],[-2.6,36],[-2.22,37],[-1.3,42],[-1.4,39],[-1.5,40],[-1.6,36],[-1.7,38],[-1.78,34],[-1.28,36],[-1.38,33],[-1.48,34],[-1.58,32],[-1.68,30],[-1.82,29],[-1.88,28],[-1.3,30],[-1.42,28],[-1.52,26],[-1.62,27],[-1.75,25],[-1.25,26],[-1.35,24],[-1.48,22],[-1.55,24],[-1.9,20],[-1.2,20],[-1.3,18],[-1.38,15],[-1.15,14],[-1.1,17],[-1.18,11],[-1.06,10],[-1.01,9],[-1.04,20],[-1.25,130],[-1.35,122],[-1.12,92],[-1.3,95],[-1.42,92],[-1.5,94],[-1.08,146],[-1.12,153],[-1.35,150],[-1.3,156],[-1.22,158],
[-1.03,150],[-1.15,148],[-1.3,146],[-1.4,148],[-1.03,138],[-1.35,140],[-1.65,140],[-1.85,142],[-1.12,128],[-1.25,120],[-1.45,130],[-1.58,125],[-1.68,134],[-1.78,128],[-1.88,127],[-2,122],[-1.03,116],[-1.1,122],[-1.28,114],[-1.38,112],[-1.5,113],[-1.62,114],[-1.74,115],[-1.88,116],[-1.98,114],[-2.12,114],[-1.05,106],[-1.15,108],[-1.26,100],[-1.38,103],[-1.48,100],[-1.58,101],[-1.68,104],[-1.78,101],[-1.9,100],[-2,100],[-2.12,100],[-2.25,100],[-1.72,94],[-1.85,94],[-1.95,93],[-2.05,94],[-2.18,92],[-2.3,89],[-1.68,87],[-1.78,89],[-1.88,86],[-1.98,88],[-2.08,86],[-2.25,86],[-1.65,80],[-1.78,82],[-1.86,80],[-1.95,82],[-2.05,76],[-2.15,78],[-1.5,75],[-1.58,78],[-1.68,75],[-1.78,74],[-1.9,76],[-2,73],[-2.1,75],[-1.48,66],[-1.55,68],[-1.65,68],[-1.72,64],[-1.85,66],[-1.95,64],[-2.05,66],[-1.42,62],[-1.55,60],[-1.62,60],[-1.72,59],[-1.85,58],[-1.95,60],[-2.05,58],[-1.4,52],[-1.52,55],[-1.6,52],[-1.72,52],[-1.84,52],[-1.95,50],[-2.05,52],[-1.36,44],[-1.46,48],[-1.58,48],[-1.68,46],[-1.8,45],[-1.9,44],[-1.34,38],[-1.44,42],[-1.55,42],[-1.65,40],[-1.76,42],[-1.32,33],[-1.44,36],[-1.54,36],[-1.64,34],[-1.74,31],[-1.24,30],[-1.36,28],[-1.46,30],[-1.56,29],[-1.66,24],[-1.18,24],[-1.28,23],[-1.4,22],[-1.12,20],[-1.22,16],[-1.32,22]];
// panel D
const heatRowNames = ['0','1','2','3','4','5','6','7','8','9','10','11','12','13','14','15','16','17','18','19','20','21','22','23','24','25','26','27','28','29','30','31','32','33','34','35','36','37','38','39','40','41','42','43','44','45','46','47','48','49','50','51','52','53','54','55','56','57','58','59','60','61','62','63','64','65','66','67','68','69','70','71'];
const heatLevels = { 0:'#2f2f85', 1:'#46468f', 2:'#5c5c9a', 3:'#7a7aa6', 4:'#9898ad', 5:'#b4b4b4', 6:'#cdcdb8', 7:'#e2e2c0', 8:'#f2f0c6', 9:'#eed2a6', a:'#e29a84', b:'#c04a40' };
const heatRows = [
'1212121312 3121212312 5123126512 3125122312 1512125131 3121251231 4554455445 5445545544 4554455454',
'1212123413 4122121412 5121225612 4125122412 1512125141 4121251241 4454455544 4545545445 5445445554',
'1212121412 3122122412 5122135512 3125122312 1512125141 3122251241 5565566556 6556565656 5665566556',
'3323323533 4332333533 6332423663 4336233433 3633335342 4323363342 8787788778 7887787887 7878878778',
'3333333533 4333333533 6333433663 4336333433 3633335343 4333363343 8877887788 8787887878 8788778787',
'3333333633 4333333633 6333433663 5336333533 3633336353 5333363353 7877877887 7787878778 8778787877',
'3343434443 4343434443 5344434554 4345343443 4543435343 4434354344 6565665656 6656565665 6565656656',
'3333323432 4332343432 4323423443 4234323433 3433324342 4323343243 4454544545 4545445454 5445454454',
'3332423423 4323232342 4232432442 4324332423 3423234342 4232342342 5445454545 4454545544 4545454454',
'3433343443 4343434443 5343443554 4345343444 3543435343 4343453443 4545554454 5545445545 4554545445',
'3333233432 4332323432 4323423453 4234323443 3433324342 4323243342 5656566556 6565656556 5665656565',
'4343434544 4434344544 6434544665 4436434554 4644346454 5443464454 6766767667 7667676766 6767667676',
'4445444545 5445444545 5445544665 5446444554 4644446454 5444464454 7677677676 7676767767 6776767676',
'5454545655 5545454655 6545655675 5546545565 5654546565 5545465564 7676767767 7667676767 7676776766',
'5454545645 5545555655 7545655776 5556545655 5655456565 5555465565 5656566565 6565656556 6565565656',
'6566566766 6565665766 7666766777 6667656766 6766567675 6656576675 6566565656 5656566565 6656565665',
'3636253625 3625363625 7263634714 3625363625 3625263636 2536253625 9a8a9a9a99 9a8a9a9a9a 9a9a8a9a99',
'4646464746 5646464746 8464746874 6468464746 4746468466 5646474656 8998988989 8989898998 9898988989',
'5656565756 6656565756 8565756875 6568565766 5756568576 6656575656 8888988898 8898888988 8889888988',
'6666666766 6666666766 7666666776 6667666766 6766667666 6666676676 8787888787 8878878887 8887878788',
'0000010200 1000000200 3000100330 1002000100 0300002010 1000030010 3535353535 5353535353 3535355353',
'1311131213 1313131213 3131213331 2313131213 1313133121 2131313121 3343334343 3434333433 3433343343',
'1211121211 2121121212 3112212331 2113121221 1311123121 2112131221 3233323332 3323233323 2333233323',
'2423242524 2324232423 4242425442 3242524243 2423245242 3242524232 3344334334 3433434334 3343343433',
'1111121211 2111112111 3111211331 1113111211 1311113121 2111131121 3333433343 3334333433 3343333433',
'1011111211 2110111211 3110211331 1113101211 1301113111 2011131121 4454445454 4545445445 4544544454',
'1111011211 1111011211 3101211331 2113111111 1311113111 1111131111 4544554554 5454554545 5455454545',
'2323233423 3233323423 4233332442 4234233323 3423244243 3342343323 4344434443 4443443444 3444344434',
'1110111211 2111101211 3110211331 1113111211 1311112121 2110131111 3333233323 3323333233 3332333323',
'0111011210 1101111201 3011201331 1013110201 1301013101 2110130111 3233323323 2333233323 3323323332',
'1101111201 1111011211 3110211331 1113101211 1301113111 2011131121 3343334333 4333433343 3334333433',
'1121111211 2111211211 3111211331 2113112211 1311213121 2112131121 3333433343 3333433334 3343333433',
'1111211211 2112111211 3121211332 1213111211 2312113121 2112131211 3443344334 3434433443 3344343434',
'1211121211 2121211211 3121211331 2123121211 1312123121 2121231221 3334333433 3343334333 4333433343',
'1121211211 2211211212 3112212331 2123112211 2312123121 2112231221 3443443434 4344344344 3434434434',
'2122121212 2122212212 3212222332 2123212212 1312213221 2122131221 4343344343 4434343343 4344343434',
'6566665666 5666656666 6656666666 5666656666 6665666566 6656666566 5354535453 4535453545 3545354534',
'6665666566 6566656665 6666566666 6656666566 5666666566 6665666656 3232323323 2332323232 3323232323',
'5666566566 6656665666 6566656666 6656566665 6656565666 5665656566 3434343344 3433434334 4343343434',
'5565656565 5656565565 6565565665 5655656556 5665565656 5656565565 3433343434 3343433343 3434334343',
'5656565565 6555656565 6565655666 5565655656 5656556565 5655656565 3343343433 4334343343 3433434334',
'6565656565 5656656565 6565656666 5665656565 6665656565 6565656566 3434343343 3433433434 3343433434',
'5565565656 5655656565 6556565665 5656556565 5665565656 5656565656 3333433343 3343333433 3343334333',
'4545454545 5454545454 5454545554 4545454545 4545454545 4545454545 3232323233 3232332323 3232323233',
'3534353534 3534353534 3543434353 4353435343 3534353534 3435353534 3636353635 6353635636 3563635363',
'3333233433 4323333433 4333433443 4334323433 3433334343 4323343343 5454545554 4545454545 5454554545',
'2223222322 3222322322 4223322442 3224222322 2422224232 3222242232 5454455454 5445454544 5454454545',
'1212121212 2121211212 4121222441 2124121212 1412124122 2121241221 4544545454 5454454545 4554454545',
'1111211211 2111211211 3112211331 2113111211 1311213121 2111131221 4444544454 4445444544 4454445444',
'1212111211 2112111211 3111211332 1213121211 1312113121 2112131211 4545454445 4544545445 4544544544',
'1122112211 2112111211 4112211441 2114112211 1411214121 2112141221 5454545454 4545545454 5454545454',
'2232223322 3223223322 5223322552 3225223322 2522235232 3223252232 5545554555 5455545554 5455545545',
'2222323322 3232223322 4232322442 3224232322 2422324232 3223242232 5555455555 4555545555 4555554555',
'3434343434 4343434434 5343434553 4345343434 3543435343 4343453443 6656566565 6656565665 6566565665',
'3343343433 4334343433 5343434553 4345334433 3533345343 4334353344 6666566666 5666656666 6566666566',
'3343243423 4324342432 5324342552 4325234342 3532435243 4243253424 6766676666 7666676667 6667666766',
'4353435344 5343535344 5353445553 4353534453 4535343534 5343534453 1212121212 1212112121 1212121212',
'4545354535 4535454535 5454535543 5454535454 5535454535 4545354535 2323232232 3232323223 2323223232',
'3535443544 3544353544 5353544553 4435443353 5443535443 5435443535 2223222322 3222322232 2232223222',
'2323232223 2223232323 3232223332 2232323232 3232223232 3222323222 1011011101 1101110110 1101011011',
'3434343433 3433343334 4343433443 4434343433 3443433343 4343434433 1212112121 1211212112 1212111212',
'a9a99a9a99 9a99a9a99a 9a9a9a9a9a 99a9a99a9a 99a9a99a9a a99a9a99a9 babaabaaba aabaabaaba aabaabaaba',
'9898989989 9898989898 9899898998 9898989989 8998989898 9899898989 a9aa9a9aa9 a9aa9a9a9a 9aa9a9a9aa',
'7877677767 8767876878 7687867887 6878768767 8767876787 6787687678 9898898989 8989898989 8989898989',
'7687687678 6768767686 7867868778 6768768676 8768768676 8676867686 8888888988 8888988888 8898888888',
'9a99a9a99a 99a99a99a9 a99a99a9aa 99a9a99a99 a9a9a99a99 9a9a99a999 9a9a99a9a9 99a99a9a9a 9a99a9a99a',
'5965a69565 a5696595a5 965a569a95 65956a5965 6956a59656 95a6595695 5555655565 5565555655 5565556555',
'5565656556 5656565565 6565655665 5656556565 5656565656 6565656565 5454555454 5545454555 4545554545',
'6565656565 5656666565 7666656776 6656566656 6665665656 6566565666 5555455555 5455555545 5555455555',
'6776767676 7676767677 7676767887 6776767677 6776767676 7667676767 6665666566 6656665666 6566656665',
'7879878798 7879787989 8798789887 8798787987 9878798798 7879879787 7677767776 7767776777 6777677767',
'8787878878 7878788788 8787878887 7878878787 8788787878 8787887887 7878787787 8787877878 7878787878'
];
const annotRows = ['dataSet', 'sampleType'];
const annotTcgaCase = [60, 60];
const annotGtexControl = [30, 30];
const colorbarTicks = [0, 5, 10];
const colorbarRange = [-2.68, 13.9];
const colorbarStops = [[-2.68,'#191970'],[0,'#6e6e9c'],[2.7,'#b2b2b2'],[5.6,'#f0f0c8'],[8,'#eec89e'],[10,'#d98d78'],[13.9,'#b22222']];
// dendrogram lines as [height, row%]
const dendroLines = [
[[54.3,29.7],[99.6,29.7],[99.6,87.9],[69.7,87.9]],
[[43.8,14.1],[54.3,14.1],[54.3,45.5],[47,45.5]],
[[36,5.5],[43.8,5.5],[43.8,23],[38.9,23]],
[[29,2.3],[36,2.3],[36,8.55],[29,8.55]],
[[21.3,1.05],[29,1.05],[29,3.7],[13,3.7]],
[[0,0.25],[21.3,0.25],[21.3,1.45],[10,1.45]],
[[15.7,4.1],[29,4.1],[29,13],[25.2,13]],
[[12,4.6],[22.3,4.6],[22.3,7.8],[18,7.8]],
[[19,8.2],[25.2,8.2],[25.2,18],[21,18]],
[[11,8.6],[18.5,8.6],[18.5,14.5],[10,14.5]],
[[10,14.7],[19.5,14.7],[19.5,19],[15,19]],
[[10,22.6],[38.9,22.6],[38.9,23.4],[33.8,23.4]],
[[20,22.9],[33.8,22.9],[33.8,24.4],[31.9,24.4]],
[[20,23.2],[27.7,23.2],[27.7,25.6],[22.3,25.6]],
[[16,24.4],[22.3,24.4],[22.3,27],[10,27]],
[[23.2,29.9],[47,29.9],[47,61],[35,61]],
[[12,27.5],[23.2,27.5],[23.2,32.5],[19,32.5]],
[[10,28.6],[19.5,28.6],[19.5,32],[12,32]],
[[12,34.9],[17.6,34.9],[17.6,37.2],[12,37.2]],
[[29.3,51],[35,51],[35,79.1],[28,79.1]],
[[35,62.6],[25.8,62.6]],
[[15,60.8],[25.8,60.8],[25.8,64.4],[14,64.4]],
[[24.4,49.8],[29.3,49.8],[29.3,52.3],[22,52.3]],
[[10,49.3],[26.5,49.3],[26.5,50.6],[22,50.6]],
[[18,77.4],[28,77.4],[28,80.9],[20,80.9]],
[[33.7,85.3],[69.7,85.3],[69.7,90.4],[47.7,90.4]],
[[0,84.9],[33.7,84.9],[33.7,85.7],[0,85.7]],
[[32.5,88.6],[47.7,88.6],[47.7,92.2],[41.7,92.2]],
[[24,86.9],[32.5,86.9],[32.5,90.4],[22,90.4]],
[[25,91.1],[41.7,91.1],[41.7,93.3],[31,93.3]],
[[21,91.5],[31,91.5],[31,97.8],[24,97.8]],
[[18,97.2],[24,97.2],[24,98.5],[14,98.5]]
];
const dendroLeaves = [[0,0],[8,0.2],[14.7,2.5],[15.7,4],[11.9,5.7],[9.9,6.7],[16.6,7.3],[17.6,9.9],[16.6,11.1],[12.8,13],[10.9,14.5],[16.6,15.3],[20.4,17.2],[21.4,19.3],[17.6,20.8],[10.9,22.3],[21.4,22.7],[20.4,24.6],[11.9,26.9],[15.7,27.5],[15.7,29.8],[10.9,32],[15.7,30.9],[13.8,32.6],[13.8,34],[17.6,37.2],[13.8,39.3],[10.9,41.4],[10.9,43.5],[10.9,47.7],[10.9,49],[25.2,49.4],[26.1,52.3],[22.3,54],[20.4,56.1],[20.4,58.2],[21.4,60.3],[19.5,61.4],[19.5,63.5],[11.6,64.7],[16,70.1],[13.8,72.9],[11.6,77],[19.3,77.5],[20.4,81],[21.5,84.6],[20.4,85.4],[11.6,86.5],[18.2,89.3],[22.6,90.6],[20.4,92],[16,97.5],[10.5,99.9],[0,100],[0,0]];

const page = document.getElementById('page');
const teal = '#00BDC0', salmon = '#F8766D';
const tealFill = 'rgba(0,191,196,0.12)', salmonFill = 'rgba(248,118,109,0.12)';
const minus = v => String(v).replace('-', '\u2212');

function mount(left, top, w, h, config) {
  const c = document.createElement('canvas');
  c.width = w; c.height = h;
  c.style.left = left + 'px'; c.style.top = top + 'px';
  c.style.width = w + 'px'; c.style.height = h + 'px';
  page.appendChild(c);
  config.options.responsive = false;
  config.options.animation = false;
  config.options.devicePixelRatio = 1;
  config.options.events = [];
  return new Chart(c.getContext('2d'), config);
}
function text(str, x, y, size, bold, cls) {
  const d = document.createElement('div');
  d.className = 'txt' + (cls ? ' ' + cls : '');
  d.textContent = str;
  d.style.left = x + 'px'; d.style.top = y + 'px';
  if (size) d.style.fontSize = size + 'px';
  if (bold) d.style.fontWeight = 'bold';
  page.appendChild(d);
}
function swatch(x, y, w, h, bg, border) {
  const d = document.createElement('div');
  d.className = 'box';
  d.style.cssText = `left:${x}px;top:${y}px;width:${w}px;height:${h}px;background:${bg};` + (border ? `border:5px solid ${border};` : '');
  page.appendChild(d);
  return d;
}

function pointSet(data, color, style, radius) {
  return { data, showLine: false, pointStyle: style, pointRadius: radius, pointBackgroundColor: color, pointBorderWidth: 0 };
}
// the outline runs one point past both ends so the spline has no corner where it closes;
// those two extra segments are not stroked
function outline(data, color, fillColor) {
  const loop = [data[data.length - 2], ...data, data[1]];
  return {
    data: loop, showLine: true, tension: 0.4, fill: 'shape', borderColor: color, borderWidth: 4, backgroundColor: fillColor, pointRadius: 0,
    segment: { borderColor: s => (s.p0DataIndex === 0 || s.p1DataIndex === loop.length - 1) ? 'rgba(0,0,0,0)' : undefined }
  };
}
function rule(data, color, dash, width) {
  return { data, showLine: true, borderColor: color, borderWidth: width, borderDash: dash, pointRadius: 0, fill: false };
}

function pcaChart(o) {
  const axis = (labels, step, min, max, extra) => ({
    type: 'linear', min, max,
    border: { display: false },
    grid: {
      color: c => labels.includes(c.tick.value) ? '#ebebeb' : '#f4f4f4',
      lineWidth: c => labels.includes(c.tick.value) ? extra.major : 2,
      tickLength: extra.tick, tickWidth: 3,
      tickColor: c => extra.tick && labels.includes(c.tick.value) ? '#333' : 'rgba(0,0,0,0)'
    },
    ticks: {
      stepSize: step, includeBounds: false, autoSkip: false, maxRotation: 0, padding: extra.pad,
      color: '#4d4d4d', font: { size: 25 },
      callback: v => labels.includes(v) ? minus(v) : ''
    },
    title: { display: true, text: extra.title, color: '#111', font: { size: 28 }, padding: extra.titlePad },
    afterFit: extra.fit
  });
  return mount(o.left, 134, o.width, 1516, {
    type: 'scatter',
    data: { datasets: [
      rule([[o.x[0], 0], [o.x[1], 0]], '#000', [14, 9], 3),
      rule([[0, o.y[0]], [0, o.y[1]]], '#000', [14, 9], 3),
      pointSet(o.gtex, salmon, 'circle', 6),
      pointSet(o.tcga, teal, 'triangle', 10),
      outline(o.gtexEllipse, salmon, salmonFill),
      outline(o.tcgaEllipse, teal, tealFill)
    ] },
    options: {
      plugins: {
        legend: { display: false },
        tooltip: { enabled: false },
        title: { display: true, text: o.title, color: '#000', font: { size: 47, weight: 'bold', lineHeight: 1 }, padding: { top: 0, bottom: -2 } }
      },
      scales: {
        x: axis(o.xTicks, o.xStep, o.x[0], o.x[1], { major: 3, tick: 0, pad: 12, title: o.xTitle, titlePad: { top: 0, bottom: 18 }, fit: s => { s.height = 90; } }),
        y: axis(o.yTicks, 50, o.y[0], o.y[1], { major: 4, tick: 6, pad: 4, title: o.yTitle, titlePad: { top: o.yTitlePad, bottom: 0 }, fit: s => { s.width = o.yWidth; } }),
        // empty axis that keeps the legend column free, so the title centres on the whole canvas
        legendSpace: { position: 'right', border: { display: false }, grid: { display: false }, ticks: { display: false }, afterFit: s => { s.width = o.right; } }
      }
    }
  });
}

pcaChart({ left: 100, width: 2016, right: 259, yWidth: 161, yTitlePad: 56, x: [-120.2, 173], y: [-187.7, 132], xStep: 50,
  xTicks: aXTicks, yTicks: aYTicks, title: 'Before removing batch effect', xTitle: 'Dim1 (35.1%)', yTitle: 'Dim2 (7.5%)',
  gtex: aGtex, tcga: aTcga, gtexEllipse: aGtexEllipse, tcgaEllipse: aTcgaEllipse });
pcaChart({ left: 2200, width: 1800, right: 89, yWidth: 109, yTitlePad: 7, x: [-102, 130.7], y: [-171.9, 143.8], xStep: 25,
  xTicks: bXTicks, yTicks: bYTicks, title: 'After removing batch effect', xTitle: 'Dim1 (13.3%)', yTitle: 'Dim2 (7.6%)',
  gtex: bGtex, tcga: bTcga, gtexEllipse: bGtexEllipse, tcgaEllipse: bTcgaEllipse });

// "Groups" legends
[[1899, 1958], [3953, 4012]].forEach(([x, tx]) => {
  text('Groups', x, 818, 28);
  swatch(x, 847, 45, 46, '#f4f4f4', salmon);
  swatch(x, 892, 45, 46, '#ecf8f8', teal);
  const dot = swatch(x + 12, 859, 21, 21, salmon);
  dot.style.borderRadius = '50%';
  const tri = swatch(x + 9, 902, 27, 20, teal);
  tri.style.clipPath = 'polygon(50% 0, 100% 100%, 0 100%)';
  text('GTEx', tx, 869, 23);
  text('TCGA', tx, 915, 23);
});

// volcano
const frame = { id: 'frame', afterDraw(ch) {
  const a = ch.chartArea, g = ch.ctx;
  g.save(); g.strokeStyle = '#000'; g.lineWidth = 4;
  g.strokeRect(a.left, a.top, a.right - a.left, a.bottom - a.top);
  g.restore();
} };
const coreSet = (data, color) => ({ data, showLine: true, fill: 'shape', tension: 0, borderColor: color, borderWidth: 2, backgroundColor: color, pointRadius: 0 });
mount(100, 1900, 1968, 1758, {
  type: 'scatter',
  data: { datasets: [
    rule([[fcCuts[0], -11.8], [fcCuts[0], 302.2]], '#bcbcbc', [10, 6], 3),
    rule([[fcCuts[1], -11.8], [fcCuts[1], 302.2]], '#bcbcbc', [10, 6], 3),
    rule([[-6.7, fdrCut], [4.71, fdrCut]], '#bcbcbc', [16, 6, 4, 6], 3),
    pointSet(cDown, '#006400', 'circle', 9),
    pointSet(cUp, '#B22222', 'circle', 9),
    coreSet(cDownCore, '#006400'),
    coreSet(cUpCore, '#B22222'),
    pointSet(cNs, '#bebebe', 'circle', 4),
    coreSet(cNsCore, '#bebebe')
  ] },
  options: {
    layout: { padding: { top: 59, right: 50 } },
    plugins: { legend: { display: false }, tooltip: { enabled: false } },
    scales: {
      x: {
        type: 'linear', min: -6.7, max: 4.71,
        border: { display: false },
        grid: { drawOnChartArea: false, tickLength: 27, tickWidth: 4, tickColor: '#000' },
        ticks: { stepSize: 2, includeBounds: false, autoSkip: false, maxRotation: 0, padding: 34, color: '#111', font: { size: 44 },
          callback: v => cXTicks.includes(v) ? minus(v) : '' },
        title: { display: true, text: 'log2(FoldChange)', color: '#111', font: { size: 48, weight: 'bold' }, padding: { top: 0, bottom: 2 } },
        afterFit: s => { s.height = 232; }
      },
      y: {
        type: 'linear', min: -11.8, max: 302.2,
        border: { display: false },
        grid: { drawOnChartArea: false, tickLength: 29, tickWidth: 4, tickColor: '#000' },
        ticks: { stepSize: 50, includeBounds: false, autoSkip: false, minRotation: 90, maxRotation: 90, crossAlign: 'center', padding: 22, color: '#111', font: { size: 44 },
          callback: v => cYTicks.includes(v) ? minus(v) : '' },
        title: { display: true, text: 'log10(FDR)', color: '#111', font: { size: 47, weight: 'bold' }, padding: { top: 55, bottom: 0 } },
        afterFit: s => { s.width = 280; }
      }
    }
  },
  plugins: [frame]
});

// heatmap: one stacked horizontal dataset per column
const heatCells = heatRows.map(r => r.replace(/ /g, '').split(''));
const noAxes = { legend: { display: false }, tooltip: { enabled: false } };
mount(2484, 2010, 1151, 1587, {
  type: 'bar',
  data: {
    labels: heatRowNames,
    datasets: heatCells[0].map((_, col) => ({
      data: heatCells.map(() => 1),
      backgroundColor: heatCells.map(cells => heatLevels[cells[col]]),
      borderWidth: 0, barPercentage: 1, categoryPercentage: 1
    }))
  },
  options: {
    indexAxis: 'y',
    plugins: noAxes,
    scales: {
      x: { stacked: true, display: false, min: 0, max: heatCells[0].length },
      y: { stacked: true, display: false }
    }
  }
});

// sample annotation bars
mount(2484, 1880, 1362, 160, {
  type: 'bar',
  data: {
    labels: annotRows,
    datasets: [
      { data: annotTcgaCase, backgroundColor: ['#00CDCD', '#CD5C5C'], barPercentage: 0.88, categoryPercentage: 1, borderWidth: 0 },
      { data: annotGtexControl, backgroundColor: ['#BDB76B', '#6495ED'], barPercentage: 0.88, categoryPercentage: 1, borderWidth: 0 }
    ]
  },
  options: {
    indexAxis: 'y',
    layout: { padding: { top: 44, bottom: 36 } },
    plugins: noAxes,
    scales: {
      x: { stacked: true, display: false, min: 0, max: 90 },
      y: { stacked: true, position: 'right', border: { display: false }, grid: { display: false, drawTicks: false },
        ticks: { autoSkip: false, padding: 11, color: '#000', font: { size: 34, weight: 'bold' } }, afterFit: s => { s.width = 211; } }
    }
  }
});

// dendrogram, height 0 sits on the heatmap edge
mount(2290, 2010, 194, 1587, {
  type: 'scatter',
  data: { datasets: [
    ...dendroLines.map(l => ({ data: l, showLine: true, borderColor: '#000', borderWidth: 4, pointRadius: 0, fill: false })),
    { data: dendroLeaves, showLine: true, fill: 'shape', borderColor: '#000', borderWidth: 1, backgroundColor: '#000', pointRadius: 0 }
  ] },
  options: {
    layout: { padding: 0 },
    plugins: noAxes,
    scales: {
      x: { type: 'linear', reverse: true, min: 0, max: 110.86, display: false },
      y: { type: 'linear', reverse: true, min: 0, max: 100, display: false }
    }
  }
});

// colour key
mount(3651, 1970, 149, 590, {
  type: 'bar',
  data: {
    labels: ['key'],
    datasets: [{
      data: [colorbarRange], barPercentage: 1, categoryPercentage: 1, borderWidth: 0,
      backgroundColor: c => {
        const a = c.chart.chartArea;
        if (!a) return colorbarStops[0][1];
        const g = c.chart.ctx.createLinearGradient(0, a.bottom, 0, a.top);
        const span = colorbarRange[1] - colorbarRange[0];
        colorbarStops.forEach(([v, col]) => g.addColorStop((v - colorbarRange[0]) / span, col));
        return g;
      }
    }]
  },
  options: {
    layout: { padding: { top: 42, bottom: 40 } },
    plugins: noAxes,
    scales: {
      x: { display: false },
      y: { position: 'right', min: colorbarRange[0], max: colorbarRange[1], border: { display: false }, grid: { display: false, drawTicks: false },
        ticks: { stepSize: 5, includeBounds: false, padding: 14, color: '#222', font: { size: 31 }, callback: v => colorbarTicks.includes(v) ? v : '' },
        afterFit: s => { s.width = 114; } }
    }
  }
});

// heatmap legends
text('dataSet', 3654, 2600, 34, true);
swatch(3654, 2624, 49, 50, '#00CDCD');
swatch(3654, 2674, 49, 49, '#BDB76B');
text('TCGA', 3713, 2648, 34);
text('GTEx', 3713, 2698, 34);
text('sampleType', 3654, 2771, 34, true);
swatch(3654, 2793, 49, 50, '#CD5C5C');
swatch(3654, 2843, 49, 49, '#6495ED');
text('case', 3713, 2820, 34);
text('control', 3713, 2868, 34);

// panel letters
text('A', 16, 50, 0, false, 'tag');
text('B', 2178, 50, 0, false, 'tag');
text('C', 16, 1805, 0, false, 'tag');
text('D', 2140, 1800, 0, false, 'tag');
</script>
</body>
</html>
